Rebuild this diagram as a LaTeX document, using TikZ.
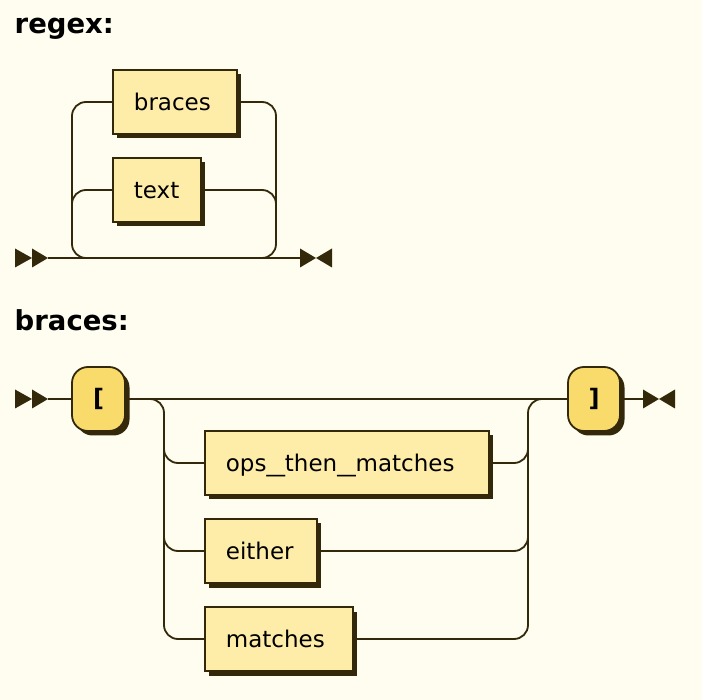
\documentclass[tikz,border=0pt]{standalone}
\usepackage{fontspec}
\usepackage{graphicx}
\setmainfont{DejaVu Sans}
\usetikzlibrary{shadows}
\definecolor{bgc}{HTML}{FEFDEF}
\definecolor{linec}{HTML}{33290A}
\definecolor{ntfill}{HTML}{FEEDA9}
\definecolor{tfill}{HTML}{F9DB6B}
\pgfdeclarelayer{bgl}
\pgfdeclarelayer{wires}
\pgfsetlayers{bgl,wires,main}
\newcommand\boxtext[2]{\makebox[#1][l]{\hspace{21pt}#2}}
\newcommand\wideus{\scalebox{1.6}[1]{\_}}
\begin{document}
\begin{tikzpicture}[x=1pt,y=-1pt,
  wire/.style={draw=linec, line width=1.8pt, rounded corners=14pt},
  ntbox/.style={draw=linec, fill=ntfill, line width=1.8pt, inner sep=0pt,
    minimum height=64pt, text height=17pt, text depth=0pt,
    font=\fontsize{23}{27}\selectfont, text=black,
    drop shadow={shadow xshift=4.5pt, shadow yshift=-4.5pt, opacity=1, fill=linec}},
  tbox/.style={draw=linec, fill=tfill, line width=1.8pt, inner sep=0pt,
    rounded corners=16pt, minimum height=64pt,
    font=\bfseries\fontsize{24}{28}\selectfont, text=black,
    drop shadow={shadow xshift=4.5pt, shadow yshift=-4.5pt, opacity=1, fill=linec}},
  title/.style={anchor=base west, inner sep=0pt, font=\bfseries\fontsize{27.5}{32}\selectfont, text=black},
  startm/.pic={\fill[linec] (-33,-9.5) -- (-16,0) -- (-33,9.5) -- cycle;
               \fill[linec] (-16,-9.5) -- (0,0) -- (-16,9.5) -- cycle;},
  endm/.pic={\fill[linec] (0,-9.5) -- (16,0) -- (0,9.5) -- cycle;
             \fill[linec] (32,-9.5) -- (16,0) -- (32,9.5) -- cycle;}
]
\useasboundingbox (0,0) rectangle (702,700);
\begin{pgfonlayer}{bgl}
\fill[bgc] (0,0) rectangle (702,700);
\end{pgfonlayer}

% ---------- regex ----------
\node[title] (t1) at (14.5,34) {regex:};
\coordinate (s1) at (48,258);
\coordinate (e1) at (300,258);
\pic at (s1) {startm};
\pic at (e1) {endm};
\node[ntbox, minimum width=124pt, anchor=west] (braces) at (112,102) {\boxtext{124pt}{braces}};
\node[ntbox, minimum width=88pt, anchor=west] (text) at (112,190) {\boxtext{88pt}{text}};

\begin{pgfonlayer}{wires}
\draw[wire] (s1) -- (e1);
\draw[wire] (braces.west) -- (72,102) -- (72,258) -- (110,258);
\draw[wire] (braces.east) -- (276,102) -- (276,258) -- (240,258);
\draw[wire] (72,230) -- (72,190) -- (text.west);
\draw[wire] (text.east) -- (276,190) -- (276,230);
\end{pgfonlayer}

% ---------- braces ----------
\node[title] (t2) at (14.5,331) {braces:};
\coordinate (s2) at (48,399);
\coordinate (e2) at (643,399);
\pic at (s2) {startm};
\pic at (e2) {endm};
\node[tbox, minimum width=53pt] (lb) at (98.5,399) {[};
\node[tbox, minimum width=52pt] (rb) at (594,399) {]};
\node[ntbox, minimum width=284pt, anchor=west] (ops) at (204,463) {\boxtext{284pt}{ops\wideus then\wideus matches}};
\node[ntbox, minimum width=112pt, anchor=west] (either) at (204,551) {\boxtext{112pt}{either}};
\node[ntbox, minimum width=148pt, anchor=west] (matches) at (204,639) {\boxtext{148pt}{matches}};

\begin{pgfonlayer}{wires}
\draw[wire] (s2) -- (lb.west);
\draw[wire] (lb.east) -- (rb.west);
\draw[wire] (rb.east) -- (e2);
\draw[wire] (lb.east) -- (164,399) -- (164,463) -- (ops.west);
\draw[wire] (164,440) -- (164,551) -- (either.west);
\draw[wire] (164,530) -- (164,639) -- (matches.west);
\draw[wire] (ops.east) -- (528,463) -- (528,399) -- (rb.west);
\draw[wire] (either.east) -- (528,551) -- (528,440);
\draw[wire] (matches.east) -- (528,639) -- (528,530);
\end{pgfonlayer}
\end{tikzpicture}
\end{document}
